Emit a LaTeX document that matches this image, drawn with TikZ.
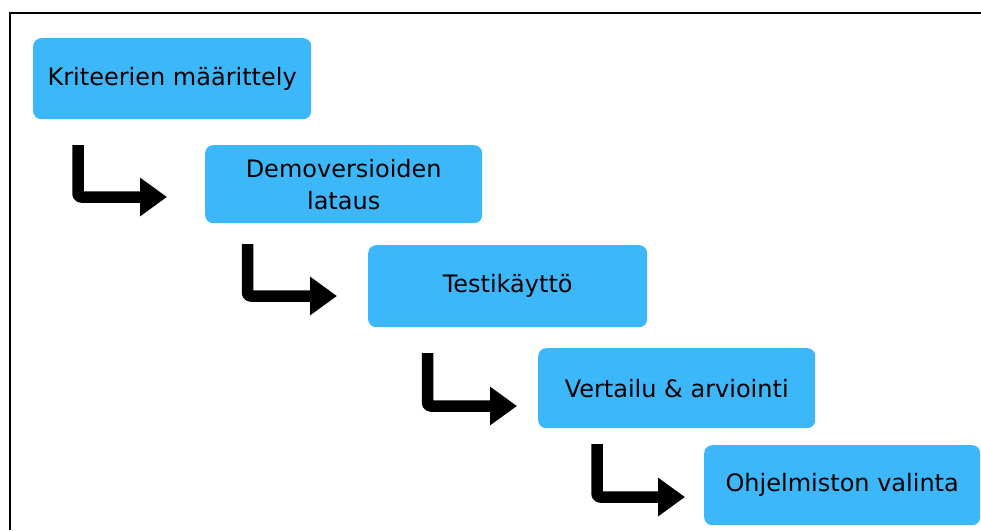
\documentclass[tikz,border=0pt]{standalone}
\usepackage{fontspec}
\setmainfont{DejaVu Sans}
\usetikzlibrary{arrows.meta}
\definecolor{boxblue}{RGB}{60,184,250}
\begin{document}
\begin{tikzpicture}[x=1pt,y=-1pt,
  stepbox/.style={fill=boxblue, draw=none, rounded corners=8pt, anchor=north west,
    inner sep=0pt, align=center, font=\fontsize{24}{32}\selectfont, text=black},
  bentarrow/.style={line width=11.5pt, rounded corners=3pt, line join=round,
    -{Triangle[length=27pt,width=37pt]}},
  frameline/.style={line width=1.3pt, black}]
\useasboundingbox (0,0) rectangle (981,530);
% frame
\coordinate (ftr) at (981,13);
\coordinate (ftl) at (10,13);
\coordinate (fbl) at (10,530);
\draw[frameline] (ftr) -- (ftl) -- (fbl);
% boxes
\node[stepbox, minimum width=278pt, minimum height=81pt] (b1) at (33,38) {Kriteerien määrittely};
\node[stepbox, minimum width=277pt, minimum height=78pt] (b2) at (205,145) {Demoversioiden\\lataus};
\node[stepbox, minimum width=279pt, minimum height=82pt] (b3) at (368,245) {Testikäyttö};
\node[stepbox, minimum width=277pt, minimum height=80pt] (b4) at (538,348) {Vertailu \& arviointi};
\node[stepbox, minimum width=276pt, minimum height=80pt] (b5) at (704,445) {Ohjelmiston valinta};
% arrows
\coordinate (a1s) at (78,145);   \coordinate (a1e) at (167,197);
\coordinate (a2s) at (247.5,244); \coordinate (a2e) at (337,296);
\coordinate (a3s) at (427.5,353); \coordinate (a3e) at (517,406);
\coordinate (a4s) at (597,444);   \coordinate (a4e) at (685,497);
\draw[bentarrow] (a1s) |- (a1e);
\draw[bentarrow] (a2s) |- (a2e);
\draw[bentarrow] (a3s) |- (a3e);
\draw[bentarrow] (a4s) |- (a4e);
\end{tikzpicture}
\end{document}
